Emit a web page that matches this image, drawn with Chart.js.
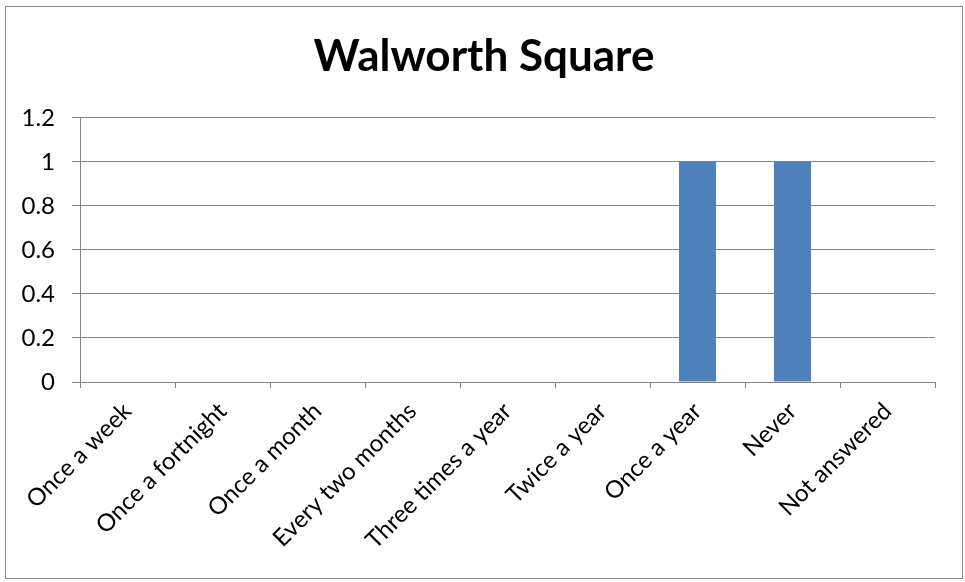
<!DOCTYPE html>
<html>
<head>
    <title>Walworth Square</title>
    <script src="https://cdn.jsdelivr.net/npm/chart.js"></script>
    <style>
        body {
            margin: 0;
            background: #ffffff;
        }
        .wrap {
            position: absolute;
            left: 0;
            top: 0;
            width: 965px;
            height: 582px;
        }
    </style>
</head>
<body>
    <div class="wrap">
        <canvas id="chart"></canvas>
    </div>

    <script>
        // Survey answers: how often people visit
        const categories = ['Once a week', 'Once a fortnight', 'Once a month', 'Every two months',
            'Three times a year', 'Twice a year', 'Once a year', 'Never', 'Not answered'];
        const counts = [0, 0, 0, 0, 0, 0, 1, 1, 0];
        const yTicks = [0, 0.2, 0.4, 0.6, 0.8, 1, 1.2];
        const yTickLabels = ['0', '0.2', '0.4', '0.6', '0.8', '1', '1.2'];

        const axisGrey = '#858585';
        const font = 'Lato, "DejaVu Sans", sans-serif';

        // thin grey frame round the whole chart; title centred on the frame
        const frame = {
            id: 'frame',
            afterLayout(chart) {
                const t = chart.titleBlock;
                if (t) { t.left = 5; t.right = 963; }
            },
            beforeDraw(chart) {
                const ctx = chart.ctx;
                ctx.save();
                ctx.strokeStyle = '#8a8a8a';
                ctx.lineWidth = 1;
                ctx.strokeRect(5.5, 6.5, 957, 572);
                ctx.restore();
            }
        };

        new Chart(document.getElementById('chart'), {
            type: 'bar',
            data: {
                labels: categories,
                datasets: [{
                    data: counts,
                    backgroundColor: '#4f81bd',
                    barPercentage: 0.39,
                    categoryPercentage: 1
                }]
            },
            plugins: [frame],
            options: {
                responsive: true,
                maintainAspectRatio: false,
                animation: false,
                layout: { padding: { left: 0, right: 30, top: 0, bottom: 0 } },
                plugins: {
                    legend: { display: false },
                    tooltip: { enabled: false },
                    title: {
                        display: true,
                        text: 'Walworth Square',
                        color: '#000000',
                        font: { family: font, size: 44, weight: 'bold', lineHeight: 1.2 },
                        padding: { top: 30, bottom: 35 }
                    }
                },
                scales: {
                    x: {
                        afterFit(scale) { scale.height = 200; },
                        grid: {
                            offset: true,
                            drawOnChartArea: false,
                            drawTicks: true,
                            tickLength: 6,
                            color: axisGrey
                        },
                        border: { color: axisGrey, width: 1 },
                        ticks: {
                            autoSkip: false,
                            maxRotation: 45,
                            minRotation: 45,
                            padding: 9,
                            color: '#000000',
                            font: { family: font, size: 24 }
                        }
                    },
                    y: {
                        min: 0,
                        max: 1.2,
                        afterFit(scale) { scale.width = 80; },
                        afterBuildTicks(scale) {
                            scale.ticks = yTicks.map(v => ({ value: v }));
                        },
                        grid: {
                            color: axisGrey,
                            drawTicks: true,
                            tickLength: 8
                        },
                        border: { color: axisGrey, width: 1 },
                        ticks: {
                            padding: 17,
                            color: '#000000',
                            font: { family: font, size: 24 },
                            callback: (v) => yTickLabels[yTicks.indexOf(v)]
                        }
                    }
                }
            }
        });
    </script>
</body>
</html>
